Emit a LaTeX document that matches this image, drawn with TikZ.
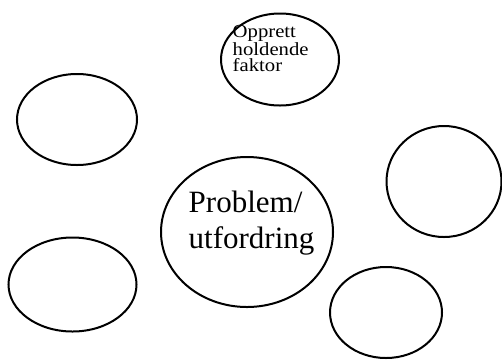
\documentclass[tikz,border=0pt]{standalone}
\usepackage{fontspec}
\setmainfont{Liberation Serif}
\newfontfamily\widefont[FakeStretch=1.12]{Liberation Serif}
\usetikzlibrary{shapes.geometric}

\tikzset{
	bubble/.style={draw, ellipse, line width=2pt, inner sep=0pt},
	label text/.style={inner sep=0pt, align=left}
}

\begin{document}
\begin{tikzpicture}[x=1pt, y=-1pt]
				\useasboundingbox (0,0) rectangle (502,360);
				\node (faktor) [bubble, minimum width=118pt, minimum height=92pt] at (280,59.5) {};
				\node (left1) [bubble, minimum width=120pt, minimum height=91pt] at (77,119.5) {};
				\node (right1) [bubble, minimum width=115pt, minimum height=111pt] at (444,181.5) {};
				\node (problem) [bubble, minimum width=172pt, minimum height=150pt] at (247,232) {};
				\node (left2) [bubble, minimum width=128pt, minimum height=94pt] at (72.5,284.5) {};
				\node (right2) [bubble, minimum width=112pt, minimum height=91pt] at (386,312.5) {};
				
				% Texts
				\node (faktortext) [label text, anchor=base west, font=\widefont\fontsize{18.5}{16}\selectfont] at (232.5,71) {Opprett\\holdende\\faktor};
				\node (problemtext) [label text, anchor=base west, font=\fontsize{31}{36}\selectfont] at (188.5,248.5) {Problem/\\utfordring};
			\end{tikzpicture}
\end{document}
